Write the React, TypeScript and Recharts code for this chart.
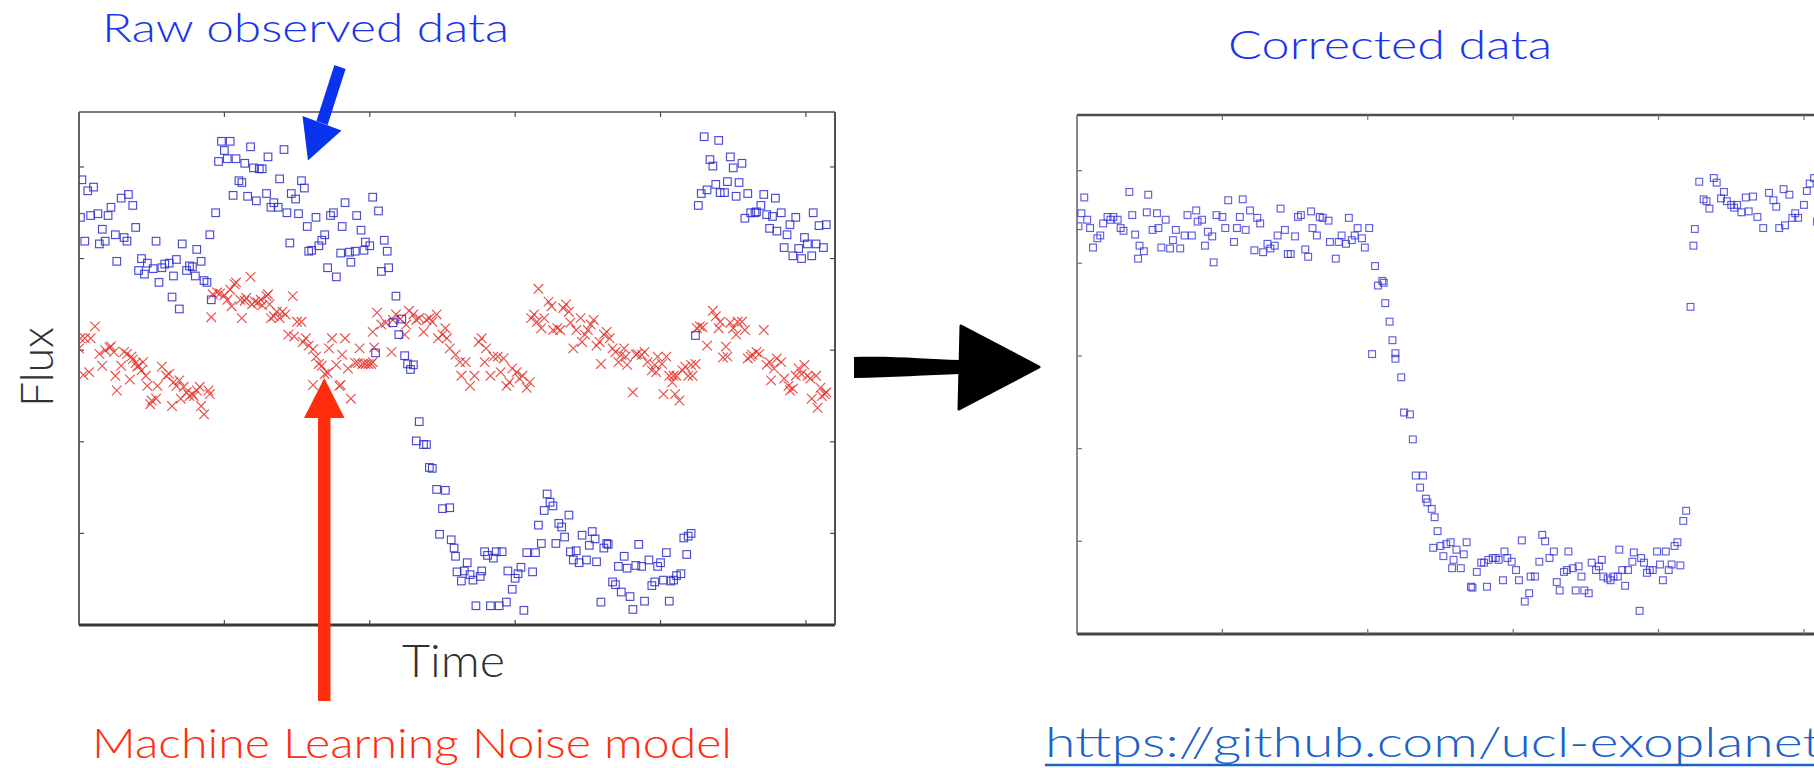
import React from "react";
import { ScatterChart, Scatter, XAxis, YAxis } from "recharts";

type Pt = [number, number];

// [time, flux] readings, blue squares of the raw light curve
const rawEarly: Pt[] = [
  [0.2, 48.6], [0.6, 47.4], [1.0, 47.8], [0.1, 44.5], [0.8, 44.7], [1.3, 44.9], [2.0, 44.7], [2.2, 45.6],
  [2.9, 46.6], [3.4, 47.0], [3.7, 45.8], [3.9, 43.4], [1.6, 43.2], [0.4, 41.9], [1.4, 41.6], [1.8, 41.9],
  [2.5, 42.6], [3.1, 42.3], [3.3, 41.9], [2.6, 39.7], [4.3, 40.0], [4.7, 39.5], [4.1, 38.7], [4.5, 38.3],
  [5.1, 38.9], [5.3, 41.9], [5.7, 39.0], [5.9, 39.4], [6.2, 39.5], [6.7, 39.9], [7.1, 41.6], [8.1, 41.0],
  [8.4, 39.7], [7.6, 39.2], [7.8, 39.1], [7.4, 38.7], [8.0, 38.1], [5.5, 37.4], [6.5, 38.1], [8.6, 37.6],
  [8.8, 37.4], [9.0, 42.6], [9.4, 45.0], [6.4, 35.8], [6.9, 34.5], [9.1, 35.5],
];
const rawPeak: Pt[] = [
  [9.8, 52.8], [10.4, 52.8], [10.0, 51.8], [9.6, 50.6], [10.2, 50.9], [10.8, 50.9], [11.4, 50.4], [11.8, 52.2],
  [12.0, 49.9], [12.4, 49.8], [12.6, 49.8], [13.0, 51.1], [14.1, 51.9], [11.0, 48.5], [11.2, 48.3], [10.6, 46.9],
  [11.6, 46.8], [12.2, 46.3], [12.9, 47.1], [13.4, 46.1], [13.2, 45.6], [13.7, 45.6], [13.8, 48.7], [14.3, 45.0],
  [14.6, 47.1], [14.9, 46.5], [15.1, 44.9], [15.3, 48.5], [15.5, 47.7], [15.7, 43.5], [16.3, 44.5], [14.5, 41.7],
  [16.0, 40.9], [15.8, 40.8], [16.5, 41.4], [16.7, 42.0], [16.9, 42.6], [17.3, 44.7], [17.5, 45.0], [18.3, 46.1],
  [18.1, 43.5], [19.1, 44.7], [19.4, 43.1], [20.2, 46.7], [20.6, 45.2], [19.7, 41.8], [20.0, 41.4], [19.6, 40.9],
  [19.0, 40.8], [18.6, 40.7], [18.0, 40.6], [18.7, 39.6], [17.1, 39.0], [17.7, 38.0], [21.0, 42.0], [21.2, 40.8],
  [20.8, 38.6], [21.3, 39.0],
];
const rawDip: Pt[] = [
  [21.8, 35.9], [21.6, 33.0], [22.2, 33.4], [22.0, 31.7], [20.4, 29.7], [22.4, 29.4], [22.6, 28.5], [23.0, 28.4],
  [22.8, 27.9], [23.4, 22.2], [23.2, 20.1], [23.7, 19.7], [23.9, 19.7], [24.1, 17.2], [24.3, 17.1], [24.6, 14.8],
  [25.2, 14.7], [25.0, 12.7], [25.5, 12.8], [24.8, 9.9], [25.6, 9.3], [25.8, 8.4], [25.9, 7.5], [26.0, 5.8],
  [26.3, 4.8], [26.5, 5.9], [26.7, 6.8], [26.9, 5.5], [27.1, 4.9], [27.6, 5.3], [27.7, 5.9], [27.3, 2.1],
  [28.3, 2.1], [28.9, 2.1], [29.4, 2.5], [27.9, 8.0], [28.1, 7.6], [28.5, 7.3], [28.7, 8.0], [29.1, 8.0],
  [29.5, 5.9], [29.8, 3.9], [30.0, 5.1], [30.2, 5.6], [30.4, 6.3], [30.6, 1.6], [30.8, 7.9], [31.2, 5.8],
  [31.4, 7.9], [31.6, 10.9], [31.8, 8.9], [32.0, 12.5], [32.2, 14.3], [32.4, 13.4], [32.6, 13.0], [32.8, 8.9],
  [33.0, 11.1], [33.2, 10.7], [33.4, 9.6], [33.7, 12.0], [33.8, 8.0], [34.0, 7.1], [34.2, 8.1], [34.4, 6.8],
  [34.6, 9.8], [34.9, 7.1], [35.1, 8.7], [35.3, 10.2], [35.5, 9.4], [35.6, 6.9], [35.9, 2.5], [36.1, 8.4],
  [36.3, 8.9], [36.4, 8.8], [36.7, 4.7], [36.9, 4.4], [37.1, 6.4], [37.3, 3.6], [37.5, 7.5], [37.7, 6.2],
  [37.9, 3.1], [38.1, 1.7], [38.3, 6.5], [38.5, 8.8], [38.7, 6.4], [38.9, 2.6], [39.2, 7.1], [39.4, 4.3],
  [39.6, 4.7], [39.8, 6.4], [40.0, 6.8], [40.2, 4.9], [40.4, 7.9], [40.6, 2.6], [40.7, 4.8], [40.9, 4.9],
  [41.1, 5.4], [41.4, 5.6], [41.6, 9.5], [41.8, 7.7], [41.9, 9.7], [42.1, 10.0],
];
const rawLate: Pt[] = [
  [42.4, 31.6], [43.0, 53.3], [44.0, 52.9], [43.4, 50.8], [43.6, 50.1], [44.8, 51.1], [45.0, 49.9], [45.6, 50.4],
  [42.6, 45.8], [42.8, 47.1], [43.2, 47.5], [43.8, 48.1], [44.1, 47.2], [44.4, 47.2], [44.6, 48.4], [45.2, 46.8],
  [45.4, 48.3], [46.0, 47.1], [47.1, 47.0], [47.9, 46.6], [45.8, 44.4], [46.2, 45.0], [46.5, 45.0], [46.6, 45.1],
  [46.9, 45.8], [47.3, 44.8], [47.7, 44.6], [48.3, 45.0], [49.3, 44.5], [47.5, 43.3], [48.0, 43.0], [48.7, 42.6],
  [48.9, 43.7], [48.5, 41.2], [49.1, 40.3], [49.7, 40.0], [49.5, 41.1], [49.9, 42.3], [50.1, 41.6], [50.4, 40.3],
  [50.7, 41.6], [50.5, 45.0], [50.9, 43.6], [51.4, 43.7], [51.2, 41.2],
];

// red crosses: the fitted noise model
const noiseA: Pt[] = [
  [0.1, 31.3], [0.4, 31.3], [1.1, 32.6], [0.8, 31.3], [0.0, 30.2], [0.7, 27.6], [0.3, 27.3], [1.4, 29.6],
  [1.6, 28.3], [1.8, 30.0], [2.1, 30.3], [2.2, 30.4], [2.4, 29.8], [2.5, 27.2], [2.6, 25.6], [2.9, 28.3],
  [3.1, 29.8], [3.3, 29.6], [3.5, 26.8], [3.6, 29.3], [3.7, 29.0], [3.9, 28.6], [4.0, 28.2], [4.1, 28.3],
  [4.3, 27.8], [4.4, 28.7], [4.6, 27.2], [4.7, 26.1], [4.9, 24.1], [5.0, 24.5], [5.3, 24.7], [5.4, 26.1],
  [5.7, 28.2], [6.0, 27.2], [6.2, 27.4], [6.4, 23.9], [6.5, 26.5], [6.7, 26.1], [6.9, 26.7], [7.0, 24.7],
  [7.2, 26.0], [7.4, 25.4], [7.6, 25.0], [7.8, 25.2], [7.9, 25.0], [8.1, 25.6], [8.3, 26.0], [8.4, 23.9],
  [8.6, 23.0], [8.9, 25.6], [9.0, 25.2],
];
const noiseB: Pt[] = [
  [9.1, 33.6], [9.2, 36.1], [9.5, 36.3], [9.7, 36.2], [10.0, 36.0], [10.2, 35.5], [10.4, 36.6], [10.5, 34.8],
  [10.7, 37.2], [10.8, 37.4], [11.1, 35.5], [11.2, 33.5], [11.4, 35.4], [11.5, 35.7], [11.8, 38.0], [11.9, 35.0],
  [12.1, 35.3], [12.3, 35.2], [12.5, 35.5], [12.6, 34.9], [12.9, 35.9], [13.0, 36.1], [13.1, 35.0], [13.2, 33.5],
  [13.4, 33.7], [13.6, 34.2], [13.8, 33.5], [14.0, 34.2], [14.2, 33.9], [14.4, 31.7], [14.7, 35.9], [14.8, 31.5],
  [15.0, 33.1], [15.3, 33.1], [15.4, 30.9], [15.6, 31.3], [15.8, 30.5], [16.1, 30.1], [16.3, 29.3], [16.5, 28.5],
  [16.7, 28.3], [16.9, 27.4], [17.1, 27.5], [17.2, 30.2], [17.4, 31.3], [17.7, 28.4], [17.9, 26.1], [18.1, 29.5],
  [18.3, 31.3], [18.5, 28.0], [18.7, 24.7], [16.1, 26.2], [18.0, 26.2], [19.0, 28.6], [19.2, 28.6], [19.3, 30.2],
  [19.5, 28.5], [19.7, 28.5], [19.9, 28.5], [20.1, 28.5], [20.2, 28.7], [20.3, 30.3], [20.2, 32.0], [20.5, 34.1],
  [20.8, 32.8], [21.1, 33.0], [21.5, 29.8], [21.6, 33.3], [21.8, 33.9], [22.1, 33.4], [22.4, 31.7], [22.5, 32.8],
  [22.7, 34.3], [23.0, 33.9], [23.2, 33.3], [23.4, 33.5], [23.7, 32.0], [23.9, 33.3], [24.1, 33.5], [24.3, 33.1],
  [24.6, 33.9], [24.7, 31.3], [25.0, 31.7], [25.2, 32.4], [25.3, 31.3], [25.5, 30.2], [25.9, 29.5], [26.2, 28.7],
  [26.3, 27.2], [26.6, 28.7], [26.9, 26.1], [27.2, 27.2], [27.5, 30.9], [27.7, 31.3], [28.0, 30.2], [27.9, 28.7],
  [28.3, 27.2], [28.5, 29.3], [28.8, 29.3], [29.0, 27.6], [29.2, 29.1], [29.4, 26.1], [29.6, 26.5], [29.8, 28.0],
  [30.1, 27.6], [30.3, 26.9], [30.5, 27.2], [30.8, 25.9], [31.0, 26.5],
];
const noiseC: Pt[] = [
  [31.6, 36.7], [31.1, 33.5], [31.3, 33.9], [31.5, 33.1], [31.8, 32.4], [32.0, 33.5], [32.3, 35.3], [32.5, 34.8],
  [32.6, 32.2], [32.9, 32.4], [33.1, 32.2], [33.3, 34.6], [33.5, 35.0], [33.7, 34.2], [33.8, 33.0], [34.0, 30.2],
  [34.2, 32.2], [34.5, 33.5], [34.6, 30.9], [34.8, 31.7], [35.0, 32.2], [35.2, 32.8], [35.4, 33.3], [35.6, 30.5],
  [35.8, 30.9], [35.9, 28.5], [36.1, 31.7], [36.3, 32.0], [36.5, 31.3], [36.7, 30.2], [36.9, 29.8], [37.1, 28.7],
  [37.3, 29.5], [37.5, 30.2], [37.6, 29.3], [37.7, 28.4], [38.1, 25.4], [38.3, 29.5], [38.4, 29.6], [38.7, 29.5],
  [38.9, 29.8], [39.1, 28.7], [39.4, 27.8], [39.6, 28.4], [39.7, 27.6], [39.8, 29.3], [40.1, 28.5], [40.2, 25.2],
  [40.4, 29.3], [40.6, 27.2], [40.8, 26.5], [40.9, 27.2], [41.0, 25.2], [41.1, 27.2], [41.3, 24.5], [41.5, 27.8],
  [41.7, 28.2], [41.9, 27.2], [42.1, 28.4], [42.2, 27.2], [42.4, 28.5],
];
const noiseD: Pt[] = [
  [42.5, 32.4], [42.7, 32.6], [42.9, 32.5], [43.2, 30.5], [43.6, 34.3], [43.8, 33.7], [44.0, 32.4], [44.1, 33.1],
  [44.3, 29.2], [44.5, 30.4], [44.6, 29.3], [44.8, 33.0], [45.0, 32.4], [45.2, 31.7], [45.3, 33.1], [45.6, 33.1],
  [45.8, 32.2], [46.0, 29.1], [46.2, 29.3], [46.3, 29.5], [46.6, 29.8], [46.8, 29.6], [47.1, 32.2], [47.3, 28.4],
  [47.5, 28.7], [47.6, 26.7], [47.8, 28.0], [48.0, 29.1], [48.3, 28.7], [48.5, 26.9], [48.8, 26.1], [48.9, 25.6],
  [49.1, 25.8], [49.3, 27.2], [49.5, 28.0], [49.7, 27.4], [49.9, 28.4], [50.1, 27.2], [50.3, 26.9], [50.4, 24.7],
  [50.7, 27.2], [50.8, 23.7], [51.0, 25.9], [51.1, 25.0], [51.3, 25.2], [51.4, 25.4],
];

// corrected light curve after dividing out the noise model
const corrPlateau: Pt[] = [
  [0.5, 47.1], [0.3, 45.4], [0.1, 44.0], [0.7, 44.7], [0.9, 43.8], [1.1, 41.7], [1.4, 42.7], [1.6, 43.0],
  [1.8, 44.3], [2.1, 45.0], [2.3, 44.7], [2.5, 45.0], [2.8, 44.7], [3.0, 43.8], [3.2, 43.5], [3.6, 47.7],
  [3.8, 45.2], [4.0, 43.1], [4.3, 41.9], [4.2, 40.5], [4.6, 41.3], [4.9, 47.4], [4.8, 45.5], [5.2, 43.6],
  [5.5, 45.4], [5.6, 43.8], [5.8, 41.7], [6.1, 44.7], [6.4, 41.6], [6.6, 42.5], [6.8, 43.6], [7.1, 41.6],
  [7.4, 43.0], [7.6, 45.2], [7.9, 43.0], [8.2, 45.7], [8.3, 44.5], [8.6, 44.7], [8.8, 41.9], [9.0, 43.4],
  [9.3, 42.9], [9.4, 40.1], [9.6, 45.2], [10.0, 45.0], [10.2, 43.8], [10.4, 46.8], [10.8, 42.3], [11.0, 43.8],
  [11.2, 45.0], [11.4, 46.9], [11.6, 43.6], [11.9, 45.7], [12.2, 41.4], [12.4, 44.9], [12.6, 44.3], [12.8, 41.2],
  [13.1, 42.1], [13.3, 41.6], [13.6, 41.9], [13.8, 43.0], [14.0, 45.9], [14.3, 43.6], [14.5, 41.0], [14.7, 41.0],
  [15.0, 42.9], [15.2, 45.0], [15.4, 45.2], [15.7, 41.5], [15.9, 40.7], [16.1, 45.6], [16.2, 43.8], [16.5, 43.0],
  [16.7, 45.0], [16.9, 44.9], [17.3, 44.6], [17.4, 42.3], [17.8, 40.5], [18.0, 42.3], [18.2, 43.0], [18.5, 42.1],
  [18.7, 44.9], [18.9, 42.5], [19.1, 43.0], [19.3, 43.8], [19.6, 42.7], [19.8, 41.7], [20.1, 43.8],
];
const corrIngress: Pt[] = [
  [20.5, 39.7], [20.7, 37.6], [21.0, 38.1], [21.1, 37.9], [21.2, 35.7], [21.5, 33.7], [21.7, 31.7], [21.9, 30.3],
  [21.9, 29.7], [20.3, 30.2], [22.3, 27.7], [22.5, 23.9], [22.9, 23.7], [23.1, 21.0], [23.3, 17.1], [23.8, 17.1],
  [23.6, 15.8], [24.0, 14.6], [24.1, 14.2], [24.4, 13.5], [24.5, 9.3],
];
const corrFloor: Pt[] = [
  [24.6, 12.6], [24.8, 11.1], [25.0, 9.5], [25.2, 8.4], [25.4, 9.7], [25.7, 9.9], [25.8, 7.1], [25.9, 8.0],
  [26.1, 9.1], [26.4, 7.1], [26.6, 8.6], [26.8, 9.9], [27.1, 5.1], [27.2, 5.0], [27.5, 6.7], [27.8, 7.7],
  [28.0, 7.7], [28.2, 5.1], [28.3, 8.0], [28.6, 8.2], [28.8, 8.2], [29.0, 8.0], [29.3, 5.8], [29.4, 8.9],
  [29.6, 8.2], [29.9, 7.8], [30.2, 6.9], [30.4, 5.8], [30.6, 10.1], [30.8, 3.5], [31.1, 4.4], [31.2, 6.2],
  [31.5, 6.2], [31.8, 7.8], [32.0, 10.7], [32.2, 10.0], [32.5, 8.2], [32.8, 8.9], [33.0, 5.6], [33.2, 4.7],
  [33.5, 6.7], [33.8, 8.9], [33.7, 6.9], [34.1, 7.1], [34.3, 4.7], [34.5, 7.3], [34.7, 6.2], [34.9, 4.7],
  [35.2, 4.4], [35.4, 7.7], [35.7, 6.9], [35.9, 7.3], [36.1, 8.0], [36.2, 6.2], [36.5, 6.0], [36.7, 5.8],
  [36.9, 6.2], [37.2, 6.2], [37.3, 9.1], [37.5, 6.9], [37.7, 5.2], [37.9, 6.9], [38.2, 7.8], [38.3, 8.8],
  [38.7, 2.5], [38.8, 8.2], [39.0, 7.7], [39.2, 6.6], [39.4, 6.9], [39.6, 6.9], [39.9, 8.9], [40.1, 7.5],
  [40.3, 5.8], [40.5, 8.9], [40.7, 6.9], [40.9, 7.5], [41.1, 9.5], [41.3, 9.9], [41.5, 7.4], [41.7, 12.2],
  [41.9, 13.3],
];
const corrEgress: Pt[] = [
  [42.2, 35.3], [42.4, 41.9], [42.5, 43.7], [42.8, 48.8], [43.8, 49.2], [44.0, 48.7], [44.5, 47.7], [43.1, 46.9],
  [43.3, 46.7], [43.5, 45.9], [44.3, 47.0], [44.7, 46.7], [45.0, 46.3], [45.2, 46.0], [45.4, 46.3], [45.7, 45.5],
  [46.0, 47.1], [46.2, 45.6], [46.5, 47.2], [46.8, 45.0], [47.2, 43.8], [47.6, 47.6], [47.9, 46.8], [48.1, 46.1],
  [48.6, 48.0], [49.0, 47.4], [48.3, 43.8], [48.7, 44.1], [49.2, 44.9], [49.4, 45.4], [49.6, 44.9], [50.0, 46.3],
  [50.2, 47.8], [50.4, 48.6], [50.7, 49.2], [50.9, 44.5], [51.0, 47.1],
];

const timeTicks = [10, 20, 30, 40, 50];
const fluxTicks = [10, 20, 30, 40, 50];
const TIME_DOMAIN: [number, number] = [0, 52];
const FLUX_DOMAIN: [number, number] = [0, 56];

const toRows = (...groups: Pt[][]) => groups.flat().map(([t, f]) => ({ t, f }));
const rawRows = toRows(rawEarly, rawPeak, rawDip, rawLate);
const noiseRows = toRows(noiseA, noiseB, noiseC, noiseD);
const correctedRows = toRows(corrPlateau, corrIngress, corrFloor, corrEgress);

const FONT = "Lato, 'Open Sans', sans-serif";
const BLUE_TEXT = "#1634f2";
const RED = "#ff2d0c";
const blank = () => "";

const square = (size: number, color: string, opacity: number) => (p: any) => (
  <rect
    x={p.cx - size / 2}
    y={p.cy - size / 2}
    width={size}
    height={size}
    fill="none"
    stroke={color}
    strokeOpacity={opacity}
    strokeWidth={1.15}
  />
);

const cross = (p: any) => {
  const r = 4.8;
  return (
    <path
      d={`M${p.cx - r},${p.cy - r}L${p.cx + r},${p.cy + r}M${p.cx - r},${p.cy + r}L${p.cx + r},${p.cy - r}`}
      stroke="#e8342f"
      strokeOpacity={0.88}
      strokeWidth={1.15}
      fill="none"
    />
  );
};

type Edge = { c: string; w: number };
type FrameStyle = { left: Edge; top: Edge; right: Edge; bottom: Edge; tick: string };

// MATLAB-style boxed frame: four mirrored axes with inward ticks and no labels
function frameAxes(s: FrameStyle) {
  const common = { type: "number" as const, mirror: true, tickSize: 5, tickFormatter: blank, allowDataOverflow: true };
  const tl = { stroke: s.tick, strokeWidth: 1.2 };
  return [
    <XAxis key="xb" xAxisId="b" dataKey="t" orientation="bottom" domain={TIME_DOMAIN} ticks={timeTicks} {...common}
      axisLine={{ stroke: s.bottom.c, strokeWidth: s.bottom.w }} tickLine={tl} />,
    <XAxis key="xt" xAxisId="t" dataKey="t" orientation="top" domain={TIME_DOMAIN} ticks={timeTicks} {...common}
      axisLine={{ stroke: s.top.c, strokeWidth: s.top.w }} tickLine={tl} />,
    <YAxis key="yl" yAxisId="l" dataKey="f" orientation="left" domain={FLUX_DOMAIN} ticks={fluxTicks} {...common}
      axisLine={{ stroke: s.left.c, strokeWidth: s.left.w }} tickLine={tl} />,
    <YAxis key="yr" yAxisId="r" dataKey="f" orientation="right" domain={FLUX_DOMAIN} ticks={fluxTicks} {...common}
      axisLine={{ stroke: s.right.c, strokeWidth: s.right.w }} tickLine={tl} />,
    <Scatter key="pad" xAxisId="t" yAxisId="r" data={[]} isAnimationActive={false} />,
  ];
}

const rawFrame: FrameStyle = {
  left: { c: "#3c3c3c", w: 1.6 },
  top: { c: "#505050", w: 1.6 },
  right: { c: "#505050", w: 2 },
  bottom: { c: "#383838", w: 3 },
  tick: "#4a4a4a",
};
const correctedFrame: FrameStyle = {
  left: { c: "#6a6a6a", w: 1.6 },
  top: { c: "#4e4e4e", w: 2.6 },
  right: { c: "#4e4e4e", w: 2.6 },
  bottom: { c: "#474747", w: 3 },
  tick: "#707070",
};

const PAD = { top: 3, right: 3, bottom: 3, left: 3 };

export default function App() {
  return (
    <div
      style={{
        position: "absolute",
        left: 0,
        top: 0,
        width: 1814,
        height: 768,
        overflow: "hidden",
        background: "#fff",
      }}
    >
      <div style={{ position: "absolute", left: 76, top: 109 }}>
        <ScatterChart width={762} height={519} margin={PAD}>
          {frameAxes(rawFrame)}
          <Scatter data={noiseRows} xAxisId="b" yAxisId="l" shape={cross} isAnimationActive={false} />
          <Scatter data={rawRows} xAxisId="b" yAxisId="l" shape={square(7.6, "#2a2ad0", 0.85)} isAnimationActive={false} />
        </ScatterChart>
      </div>

      {/* the corrected panel is a softer, slightly blurred rendering */}
      <div style={{ position: "absolute", left: 1074, top: 112, filter: "blur(0.45px)" }}>
        <ScatterChart width={762} height={525} margin={PAD}>
          {frameAxes(correctedFrame)}
          <Scatter
            data={correctedRows}
            xAxisId="b"
            yAxisId="l"
            shape={square(6.8, "#3434dc", 0.8)}
            isAnimationActive={false}
          />
        </ScatterChart>
      </div>

      <svg
        width={1814}
        height={768}
        style={{ position: "absolute", left: 0, top: 0, pointerEvents: "none" }}
        fontFamily={FONT}
        fontWeight={300}
      >
        <text x={102} y={42} fontSize={40} fill={BLUE_TEXT} textLength={407} lengthAdjust="spacingAndGlyphs">
          Raw observed data
        </text>
        <text x={1228} y={59} fontSize={40} fill={BLUE_TEXT} textLength={324} lengthAdjust="spacingAndGlyphs">
          Corrected data
        </text>

        {/* pointer to the raw curve */}
        <polygon points="334.4,64.9 345.6,69.1 327.6,125.1 316.4,120.9" fill="#0a33f0" />
        <polygon points="302.5,116 341.5,130.5 308,160.5" fill="#0a33f0" />

        {/* pointer to the noise model */}
        <rect x={318} y={416} width={12.5} height={285} fill={RED} />
        <polygon points="304,418 344.5,418 324.3,378" fill={RED} />

        {/* raw -> corrected */}
        <path d="M854,357 C890,355.5 930,359 959,360 L959,374 C930,375 890,377.5 854,378 Z" fill="#000" />
        <path
          d="M961,326 L1039,367 L959,409 Z"
          fill="#000"
          stroke="#000"
          strokeWidth={3}
          strokeLinejoin="round"
        />

        <text x={402} y={677} fontSize={46} fill="#2e3238" textLength={103} lengthAdjust="spacingAndGlyphs">
          Time
        </text>
        <text
          transform="translate(53,407) rotate(-90)"
          fontSize={46}
          fill="#2e3238"
          textLength={80}
          lengthAdjust="spacingAndGlyphs"
        >
          Flux
        </text>

        <text x={92} y={758} fontSize={41} fill={RED} textLength={640} lengthAdjust="spacingAndGlyphs">
          Machine Learning Noise model
        </text>
        <text x={1045} y={757} fontSize={41} fill="#1b62c6" textLength={800} lengthAdjust="spacingAndGlyphs">
          https://github.com/ucl-exoplanets
        </text>
        <line x1={1045} y1={765} x2={1814} y2={765} stroke="#1b62c6" strokeWidth={2.5} />
      </svg>
    </div>
  );
}
